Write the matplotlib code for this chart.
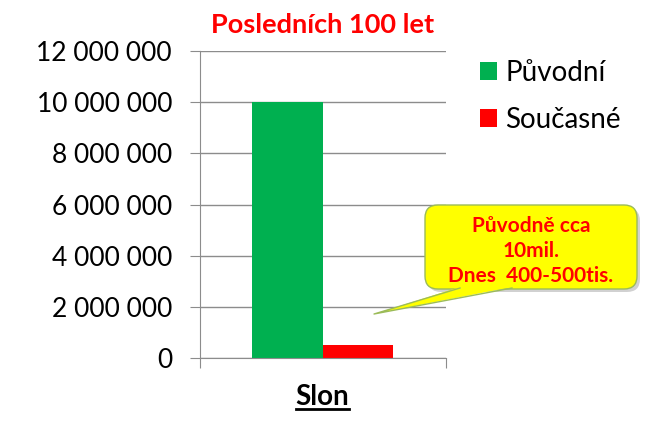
import matplotlib.pyplot as plt
import matplotlib.ticker as mticker
from matplotlib.lines import Line2D
from matplotlib.patches import FancyBboxPatch, Polygon

# Data
categories = ['Slon']
puvodni = [10000000]
soucasne = [530000]
series_names = ['Původní', 'Současné']
title = 'Posledních 100 let'
note = 'Původně cca\n10mil.\nDnes  400-500tis.'

plt.rcParams['font.family'] = ['Lato', 'DejaVu Sans']

fig = plt.figure(figsize=(6.49, 4.32), dpi=100)
ax = fig.add_axes([0.308, 0.171, 0.379, 0.711])

w = 0.287
x = list(range(len(categories)))
ax.bar([i - w / 2 for i in x], puvodni, width=w, color='#00B050', label=series_names[0], zorder=2)
ax.bar([i + w / 2 for i in x], soucasne, width=w, color='#FF0000', label=series_names[1], zorder=2)

ax.set_xlim(-0.5, len(categories) - 0.5)
ax.set_ylim(0, 12000000)
ax.yaxis.set_major_locator(mticker.MultipleLocator(2000000))
ax.yaxis.set_major_formatter(mticker.FuncFormatter(lambda v, p: f'{v:,.0f}'.replace(',', ' ')))
ax.set_xticks([-0.5, len(categories) - 0.5])
ax.set_xticklabels([])
ax.grid(axis='y', color='#8c8c8c', linewidth=1, zorder=0)
ax.tick_params(axis='y', length=7, color='#8c8c8c', labelsize=19, pad=13)
ax.tick_params(axis='x', length=7, color='#8c8c8c')
for s in ['top', 'right']:
    ax.spines[s].set_visible(False)
for s in ['left', 'bottom']:
    ax.spines[s].set_color('#8c8c8c')

# title
fig.text(0.497, 0.942, title, color='#FF0000', fontsize=19.5, fontweight='bold', ha='center', va='center')

# category label, bold + underline
lbl = fig.text(0.497, 0.080, categories[0], fontsize=20, fontweight='bold', ha='center', va='center')
fig.canvas.draw()
bb = lbl.get_window_extent(fig.canvas.get_renderer())
fig.add_artist(Line2D([bb.x0, bb.x1], [bb.y0 + 1.5, bb.y0 + 1.5], color='black', linewidth=2,
                      transform=None))

# legend
leg = fig.legend(loc='upper left', bbox_to_anchor=(0.740, 0.861), frameon=False, fontsize=20,
                 handlelength=0.6, handleheight=0.6, handletextpad=0.3, labelspacing=0.75,
                 borderpad=0, borderaxespad=0)

# callout (figure pixels, origin bottom-left)
H = 432
shadow = FancyBboxPatch((428, H - 292), 212, 84, boxstyle='round,pad=0,rounding_size=13',
                        fc='#9a9a9a', ec='none', alpha=0.45, transform=None, zorder=4)
box = FancyBboxPatch((425, H - 289), 212, 84, boxstyle='round,pad=0,rounding_size=13',
                     fc='#FFFF00', ec='#9BBB59', lw=1, transform=None, zorder=5)
tail = Polygon([(460, H - 287), (374, H - 314), (512, H - 287)], closed=True,
               fc='#FFFF00', ec='none', transform=None, zorder=6)
fig.add_artist(shadow)
fig.add_artist(box)
fig.add_artist(tail)
fig.add_artist(Line2D([460, 374, 512], [H - 288, H - 314, H - 288], color='#9BBB59', lw=1,
                      transform=None, zorder=6))
fig.text(531 / 649, 1 - 251 / H, note, ha='center', va='center', fontsize=15, fontweight='bold',
         color='#FF0000', linespacing=1.3, zorder=7)

fig.savefig('out.png', dpi=100)
